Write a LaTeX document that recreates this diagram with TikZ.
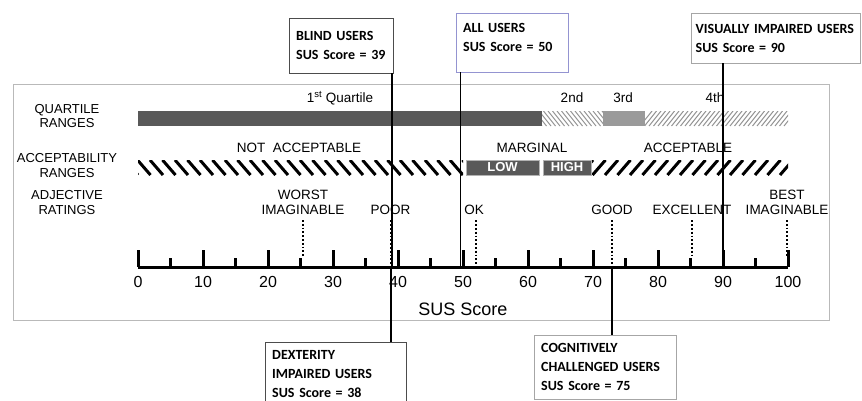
\documentclass[tikz,border=0pt]{standalone}
\usepackage{fontspec}
\setmainfont{Liberation Sans}
\newfontfamily\boxfont{Carlito}
\usetikzlibrary{positioning}
\definecolor{bardark}{HTML}{595959}
\definecolor{barlight}{HTML}{9A9A9A}
\tikzset{
  rowlabel/.style={align=center,font=\fontsize{13}{14.5}\selectfont},
  scalelabel/.style={font=\fontsize{13.5}{14.5}\selectfont},
  adjlabel/.style={align=center,font=\fontsize{13.5}{14.5}\selectfont},
  numlabel/.style={font=\fontsize{16}{18}\selectfont},
  majortick/.style={line width=3pt},
  adjline/.style={dotted,line width=1.8pt},
  userbox/.style={draw=black!70,fill=white,anchor=north west,align=left,inner xsep=7pt,
    font=\boxfont\bfseries\fontsize{14}{19}\selectfont},
  userline/.style={line width=1.9pt},
}
\begin{document}
\begin{tikzpicture}[x=1pt,y=-1pt]
        \useasboundingbox (0,0) rectangle (862,400);
        %frame
        \draw[gray!55,line width=0.8pt] (13,84) rectangle (829,320);
        % row labels
        \node[rowlabel] (qlab) at (67,116) {QUARTILE\\RANGES};
        \node[rowlabel] (alab) at (67,165.5) {ACCEPTABILITY\\RANGES};
        \node[rowlabel] (rlab) at (67,202.5) {ADJECTIVE\\RATINGS};
        % quartile ranges
        \fill[bardark] (138,111) rectangle (542,126);
        \fill[barlight] (603,111) rectangle (645,126);
        \begin{scope}
          \clip (542,111) rectangle (603,126);
          \foreach \x in {530,534.5,...,610} \draw[gray!85,line width=1pt] (\x,111) -- (\x+12,126);
        \end{scope}
        \begin{scope}
          \clip (645,111) rectangle (788,126);
          \foreach \x in {640,644.5,...,800} \draw[gray!85,line width=1pt] (\x+12,111) -- (\x,126);
        \end{scope}
        \node[scalelabel] (q1) at (340,98) {1\textsuperscript{st} Quartile};
        \node[scalelabel] (q2) at (572,98) {2nd};
        \node[scalelabel] (q3) at (623,98) {3rd};
        \node[scalelabel] (q4) at (715,98) {4th};
        % acceptability ranges
        \begin{scope}
          \clip (138,160) rectangle (463,175);
          \foreach \x in {125,137.5,...,470} \draw[line width=3pt] (\x,160) -- (\x+13,175);
        \end{scope}
        \begin{scope}
          \clip (591,160) rectangle (788,175);
          \foreach \x in {580,592.5,...,800} \draw[line width=3pt] (\x+13,160) -- (\x,175);
        \end{scope}
        \node[fill=bardark,draw=gray!60,text=white,minimum width=73pt,minimum height=15pt,inner sep=0pt,
          font=\bfseries\fontsize{13}{14}\selectfont] (low) at (502.5,167.5) {LOW};
        \node[fill=bardark,draw=gray!60,text=white,minimum width=48pt,minimum height=15pt,inner sep=0pt,
          font=\bfseries\fontsize{13}{14}\selectfont] (high) at (567,167.5) {HIGH};
        \node[scalelabel] (notacc) at (299,148) {NOT\ \ ACCEPTABLE};
        \node[scalelabel] (marg) at (532,148) {MARGINAL};
        \node[scalelabel] (acc) at (688,148) {ACCEPTABLE};
        % axis
        \draw[majortick] (138,267) -- (788,267);
        \foreach \s in {0,10,...,100} {
          \draw[majortick] ({138+6.5*\s},250) -- ({138+6.5*\s},267);
          \node[numlabel] (n\s) at ({138+6.5*\s},282) {\s};
        }
        \foreach \s in {5,15,...,95} \draw[majortick] ({138+6.5*\s},258) -- ({138+6.5*\s},267);
        \node[font=\fontsize{18}{20}\selectfont] (axlab) at (463,309) {SUS Score};
        \coordinate (axtop) at (0,257);
        \coordinate (axbase) at (0,266);
        % adjective ratings
        \node[adjlabel] (worst) at (303,202.5) {WORST\\IMAGINABLE};
        \node[adjlabel] (poor) at (390.5,210) {POOR};
        \node[adjlabel] (ok) at (474,210) {OK};
        \node[adjlabel] (good) at (612,210) {GOOD};
        \node[adjlabel] (excel) at (692,210) {EXCELLENT};
        \node[adjlabel] (best) at (787,202.5) {BEST\\IMAGINABLE};
        \draw[adjline] ([yshift=-2pt]worst.south) -- (worst.south |- axtop);
        \draw[adjline] ([yshift=-2pt]poor.south) -- (poor.south |- axbase);
        \draw[adjline] ([xshift=2pt,yshift=-2pt]ok.south) -- ([xshift=2pt]ok.south |- axbase);
        \draw[adjline] ([yshift=-2pt]good.south) -- (good.south |- axbase);
        \draw[adjline] ([yshift=-2pt]excel.south) -- (excel.south |- axtop);
        \draw[adjline] ([yshift=-2pt]best.south) -- (best.south |- axtop);
        % user groups
        \node[userbox,text width=90pt,minimum height=55pt] (blind) at (289,18) {BLIND USERS\\SUS Score = 39};
        \node[userbox,draw=gray!60!blue!60,text width=98pt,minimum height=59pt] (all) at (456,13) {ALL USERS\\SUS Score = 50\\[-9pt]\mbox{}};
        \node[userbox,draw=gray!70,inner xsep=4.5pt,text width=160pt,minimum height=50pt] (visual) at (691,13) {VISUALLY IMPAIRED USERS\\SUS Score = 90};
        \node[userbox,text width=127pt,minimum height=64pt] (dext) at (265,342) {DEXTERITY\\IMPAIRED USERS\\SUS Score = 38};
        \node[userbox,draw=gray!70,text width=128pt,minimum height=64pt] (cogn) at (534,335) {COGNITIVELY\\CHALLENGED USERS\\SUS Score = 75};
        \draw[userline] ([xshift=-1pt]blind.south east) -- ([xshift=-1pt]blind.south east |- axbase);
        \draw[userline] ([xshift=4.5pt]all.south west) -- ([xshift=4.5pt]all.south west |- axbase);
        \draw[userline] ([xshift=32pt]visual.south west) -- ([xshift=32pt]visual.south west |- axbase);
        \draw[userline] ([xshift=126pt]dext.north west) -- ([xshift=126pt]dext.north west |- axbase);
        \draw[userline] ([xshift=78pt]cogn.north west) -- ([xshift=78pt]cogn.north west |- axbase);
\end{tikzpicture}
\end{document}
